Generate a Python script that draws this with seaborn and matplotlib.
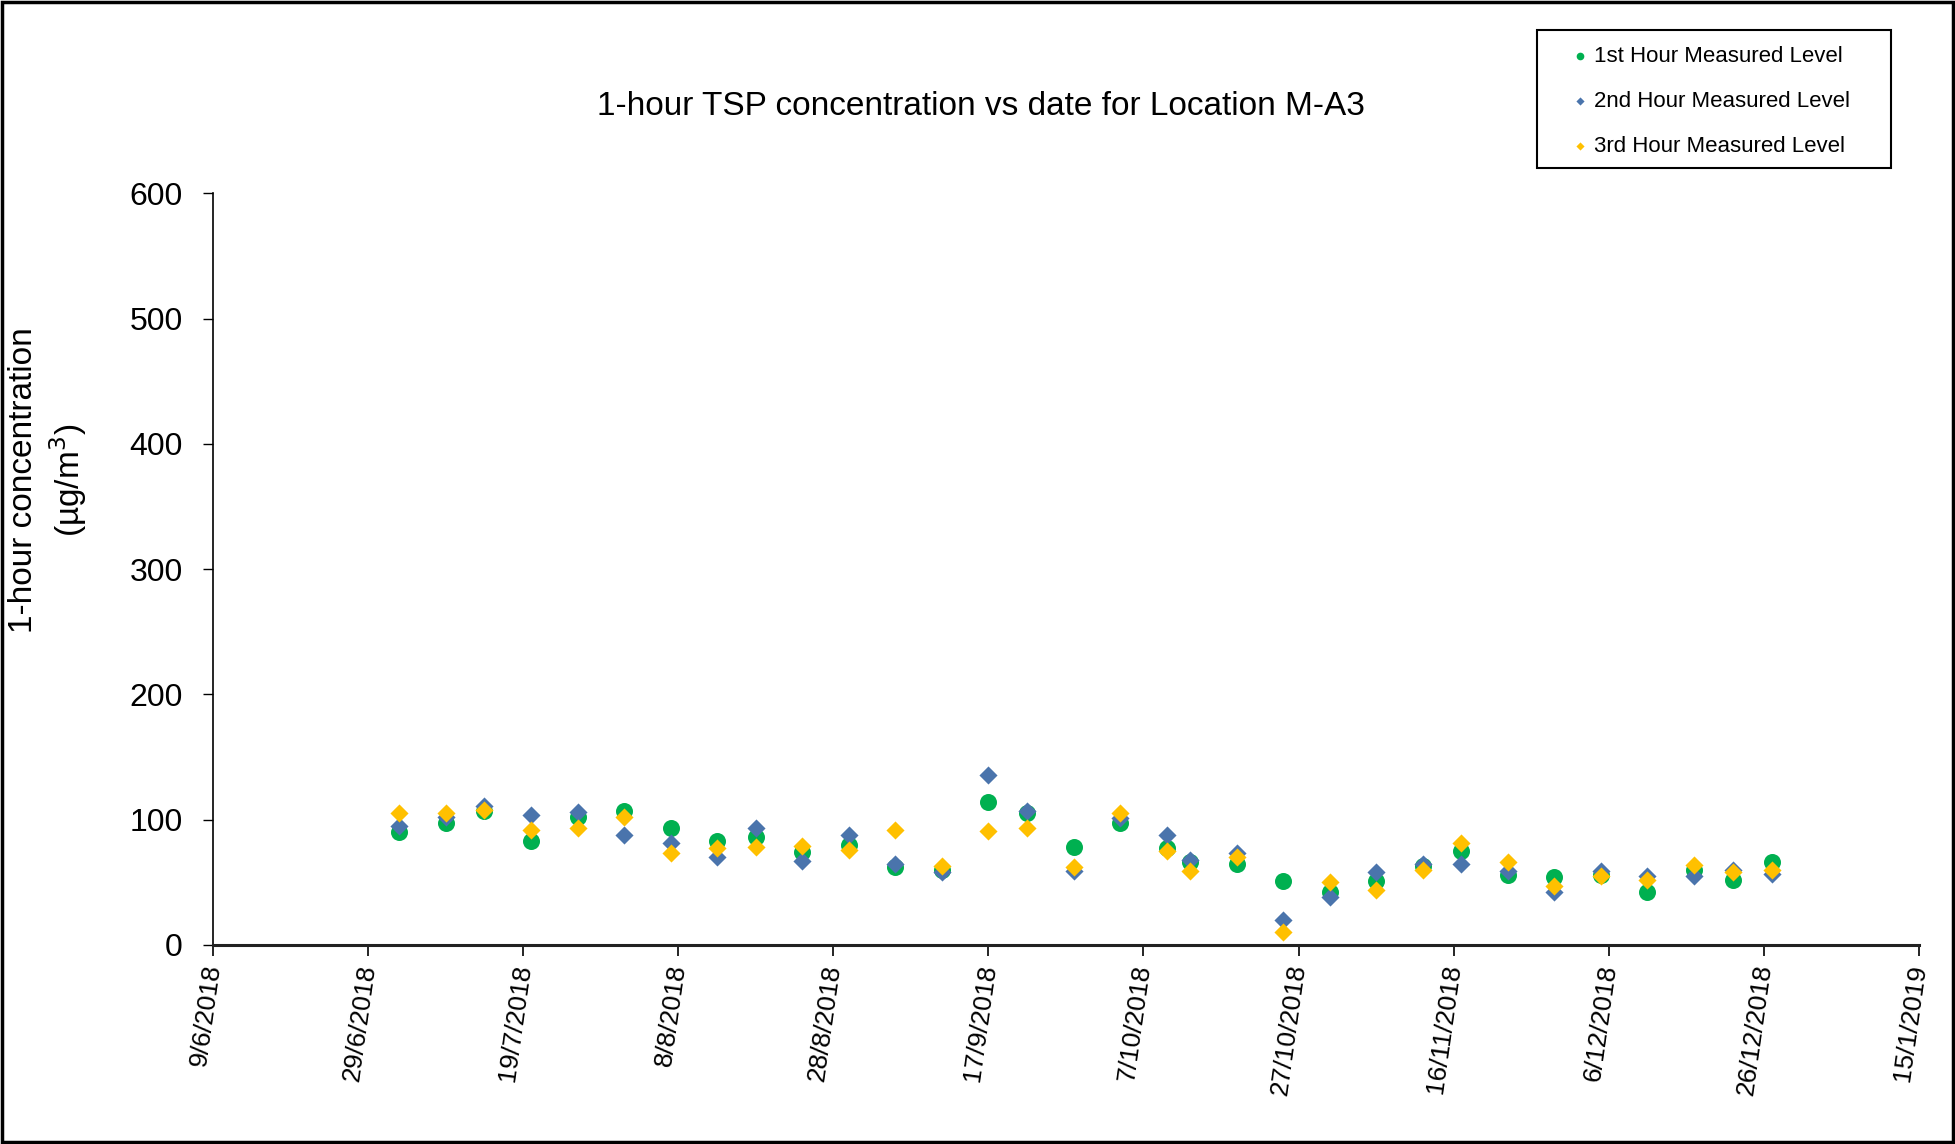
import pandas as pd
import numpy as np
import seaborn as sns
import matplotlib.pyplot as plt
from matplotlib.patches import Rectangle

# ---- data ----
dates = ['2018-07-03', '2018-07-09', '2018-07-14', '2018-07-20', '2018-07-26', '2018-08-01',
         '2018-08-07', '2018-08-13', '2018-08-18', '2018-08-24', '2018-08-30', '2018-09-05',
         '2018-09-11', '2018-09-17', '2018-09-22', '2018-09-28', '2018-10-04', '2018-10-10',
         '2018-10-13', '2018-10-19', '2018-10-25', '2018-10-31', '2018-11-06', '2018-11-12',
         '2018-11-17', '2018-11-23', '2018-11-29', '2018-12-05', '2018-12-11', '2018-12-17',
         '2018-12-22', '2018-12-27']
hour1 = [90, 97, 107, 83, 102, 107, 93, 83, 86, 74, 80, 62, 60, 114, 105, 78,
         97, 77, 66, 65, 51, 42, 51, 63, 75, 56, 54, 56, 42, 60, 52, 66]
hour2 = [95, 102, 111, 104, 106, 88, 81, 70, 93, 67, 88, 65, 58, 136, 107, 59,
         101, 88, 68, 73, 20, 38, 58, 65, 65, 59, 42, 59, 55, 55, 60, 57]
hour3 = [105, 105, 108, 92, 93, 102, 73, 77, 78, 79, 76, 92, 63, 91, 93, 62,
         105, 75, 59, 70, 10, 50, 44, 60, 81, 66, 47, 55, 52, 64, 58, 60]
series_names = ['1st Hour Measured Level', '2nd Hour Measured Level', '3rd Hour Measured Level']
x_start, x_end = '2018-06-09', '2019-01-15'
y_ticks = [0, 100, 200, 300, 400, 500, 600]

GREEN, BLUE, GOLD = '#00B050', '#4A74AC', '#FFC000'

df = pd.DataFrame({'date': pd.to_datetime(dates), 'h1': hour1, 'h2': hour2, 'h3': hour3})

sns.set_style('white')
plt.rcParams['font.family'] = ['Liberation Sans', 'DejaVu Sans']
plt.rcParams['text.color'] = 'black'
plt.rcParams['xtick.color'] = 'black'
plt.rcParams['ytick.color'] = 'black'

fig = plt.figure(figsize=(19.55, 11.44), dpi=100)
ax = fig.add_axes([0.109, 0.174, 0.8725, 0.657])

sns.scatterplot(data=df, x='date', y='h1', ax=ax, color=GREEN, marker='o', s=150,
                linewidth=0, label=series_names[0], zorder=3)
sns.scatterplot(data=df, x='date', y='h2', ax=ax, color=BLUE, marker='D', s=85,
                linewidth=0, label=series_names[1], zorder=4)
sns.scatterplot(data=df, x='date', y='h3', ax=ax, color=GOLD, marker='D', s=85,
                linewidth=0, label=series_names[2], zorder=5)

# axes
x_ticks = pd.date_range(x_start, x_end, freq='20D')
ax.set_xlim(pd.Timestamp(x_start), pd.Timestamp(x_end))
ax.set_xticks(x_ticks)
ax.set_xticklabels([f'{d.day}/{d.month}/{d.year}' for d in x_ticks], rotation=82,
                   ha='right', va='center', rotation_mode='anchor', fontsize=19)
ax.set_ylim(0, 600)
ax.set_yticks(y_ticks)
ax.tick_params(axis='y', labelsize=23, length=7, width=1, direction='out', left=True, pad=15)
ax.tick_params(axis='x', length=8, width=1.2, direction='out', bottom=True, pad=6)
ax.set_xlabel('')
ax.set_ylabel('')
for side in ['top', 'right']:
    ax.spines[side].set_visible(False)
ax.spines['left'].set_color('black')
ax.spines['left'].set_linewidth(1.2)
ax.spines['bottom'].set_color('#222222')
ax.spines['bottom'].set_linewidth(2.2)
ax.grid(False)

fig.text(0.025, 0.58, '1-hour concentration\n(µg/m$^3$)', rotation=90, ha='center',
         va='center', fontsize=24, linespacing=1.25)
fig.text(0.502, 0.907, '1-hour TSP concentration vs date for Location M-A3',
         ha='center', va='center', fontsize=24)

# legend without its own frame; the box is drawn separately to match the wide padding
leg = ax.legend(loc='upper left', bbox_to_anchor=(0.8025, 0.960), bbox_transform=fig.transFigure,
                fontsize=16, frameon=False, markerscale=0.45, handletextpad=0.15,
                labelspacing=1.08, borderpad=0, handlelength=1.0, borderaxespad=0)
fig.patches.append(Rectangle((0.7862, 0.8531), 0.1811, 0.1206, transform=fig.transFigure,
                             fill=False, edgecolor='black', linewidth=1.5))

fig.patches.append(Rectangle((0.001, 0.002), 0.998, 0.996, transform=fig.transFigure,
                             fill=False, edgecolor='black', linewidth=2.5))

fig.savefig('out.png', dpi=100)
